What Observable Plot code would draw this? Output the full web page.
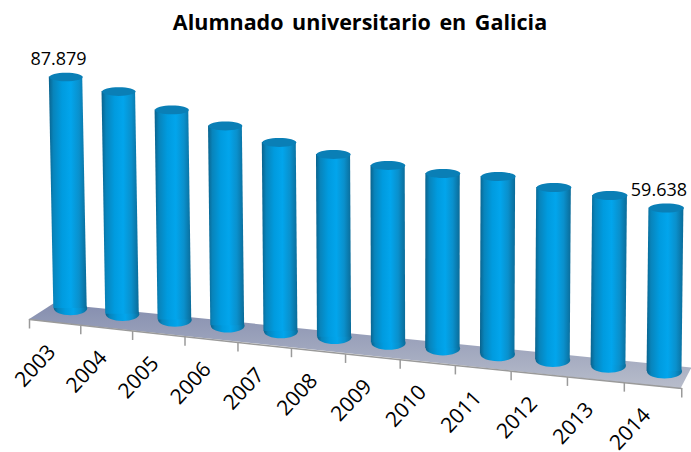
<!DOCTYPE html>
<html>
<head>
<meta charset="utf-8">
<script src="https://cdn.jsdelivr.net/npm/d3@7"></script>
<script src="https://cdn.jsdelivr.net/npm/@observablehq/plot@0.6"></script>
<style>
html,body{margin:0;padding:0;background:#fff;overflow:hidden}
#title{height:40px;width:691px;box-sizing:border-box;padding-left:29px;text-align:center;font:bold 21.5px/43px "Open Sans",sans-serif;word-spacing:3px;color:#000;white-space:nowrap}
svg{display:block}
</style>
</head>
<body>
<div id="title">Alumnado universitario en Galicia</div>
<div id="chart"></div>
<script>
const years  = [2003,2004,2005,2006,2007,2008,2009,2010,2011,2012,2013,2014];
const values = [87879,84223,78949,74671,70186,67611,65410,64455,65576,63417,62462,59638];
const shownLabels = {2003:"87.879", 2014:"59.638"};

// Pseudo-3D set-up, everything in the scales' own units (years / students)
const axisOrigin = -8264;
const baseLevel = 59800, baseDrop = 2380;
const frontLevel = 55233, frontDrop = 2384;
const frontEdge = t => 2002.5 + 0.94*t + 0.00516*t*t;
const baseSpot = i => 2003.256 + 0.9548*i + 0.00369*i*i;
const topSpot  = i => 2003.173 + 0.9696*i + 0.00332*i*i;
const floorCorners = [
  {x:2002.48,y:55233},{x:2002.94,y:61877},{x:2014.7,y:35299},{x:2014.5,y:26578}
];
const W = 691, H = 412, K = 0.002408;

const bars = years.map((year,i)=>{
  const base = baseLevel - baseDrop*i;
  return {year, i, value:values[i], base, top: base + values[i] - axisOrigin,
    baseX: baseSpot(i), topX: topSpot(i), r: 16.7 + 0.07*i};
});
const halfU = r => r/54.25;
const sides = bars.flatMap(b=>[
  {year:b.year, y:b.base, x1:b.baseX-halfU(b.r), x2:b.baseX+halfU(b.r)},
  {year:b.year, y:b.top,  x1:b.topX-halfU(b.r),  x2:b.topX+halfU(b.r)}
]);
const edges = d3.range(13).map(t=>({x:frontEdge(t), y:frontLevel-frontDrop*t}));
const ellipse = ratio => ({draw(ctx,size){
  const rx=Math.sqrt(size/Math.PI), ry=rx*ratio, c=0.5523;
  ctx.moveTo(-rx,0);
  ctx.bezierCurveTo(-rx,-ry*c,-rx*c,-ry,0,-ry);
  ctx.bezierCurveTo(rx*c,-ry,rx,-ry*c,rx,0);
  ctx.bezierCurveTo(rx,ry*c,rx*c,ry,0,ry);
  ctx.bezierCurveTo(-rx*c,ry,-rx,ry*c,-rx,0);
  ctx.closePath();
}});
const defs = () => d3.create("svg:defs").html(`
  <linearGradient id="cyl" x1="0" x2="1" y1="0" y2="0">
    <stop offset="0" stop-color="#0a628c"/><stop offset="0.12" stop-color="#0884bb"/>
    <stop offset="0.35" stop-color="#009bdf"/><stop offset="0.58" stop-color="#02a5ec"/>
    <stop offset="0.8" stop-color="#0a90cc"/><stop offset="1" stop-color="#0b6b98"/>
  </linearGradient>
  <linearGradient id="floor" x1="0" x2="0" y1="0" y2="1">
    <stop offset="0" stop-color="#858eaf"/><stop offset="1" stop-color="#b8bdcb"/>
  </linearGradient>`).node();

const font = '"Open Sans",sans-serif';
const plot = Plot.plot({
  width:W, height:H, marginLeft:29, marginRight:11, marginTop:0, marginBottom:0,
  x:{domain:[2002.5,2014.5], axis:null},
  y:{domain:[0,H/K], axis:null},
  r:{type:"identity"},
  style:{fontFamily:font, background:"#fff", overflow:"visible"},
  marks:[
    defs,
    Plot.line(floorCorners,{x:"x",y:"y",curve:"linear-closed",fill:"url(#floor)",stroke:"none"}),
    Plot.line(edges,{x:"x",y:"y",stroke:"#9a9a9a",strokeWidth:1.5}),
    Plot.link(edges,{x1:"x",x2:"x",y1:"y",y2:d=>d.y-9/K,stroke:"#9a9a9a",strokeWidth:1.5}),
    Plot.dot(bars,{x:"baseX",y:"base",r:"r",symbol:ellipse(0.40),fill:"url(#cyl)",stroke:"none"}),
    Plot.areaX(sides,{y:"y",x1:"x1",x2:"x2",z:"year",fill:"url(#cyl)"}),
    Plot.dot(bars,{x:"topX",y:"top",r:"r",symbol:ellipse(0.26),fill:"#0a7fb6",stroke:"none"}),
    Plot.text(bars.filter(b=>shownLabels[b.year]),{x:"topX",y:"top",text:b=>shownLabels[b.year],
      dx:-7.5, dy:-18, fontSize:18, fill:"#000"}),
    Plot.text(bars,{x:b=>frontEdge(b.i),y:b=>frontLevel-frontDrop*b.i,text:b=>String(b.year),
      rotate:-47,dx:6,dy:46.5,fontSize:21,fill:"#000"})
  ]
});
document.getElementById("chart").append(plot);
</script>
</body>
</html>
